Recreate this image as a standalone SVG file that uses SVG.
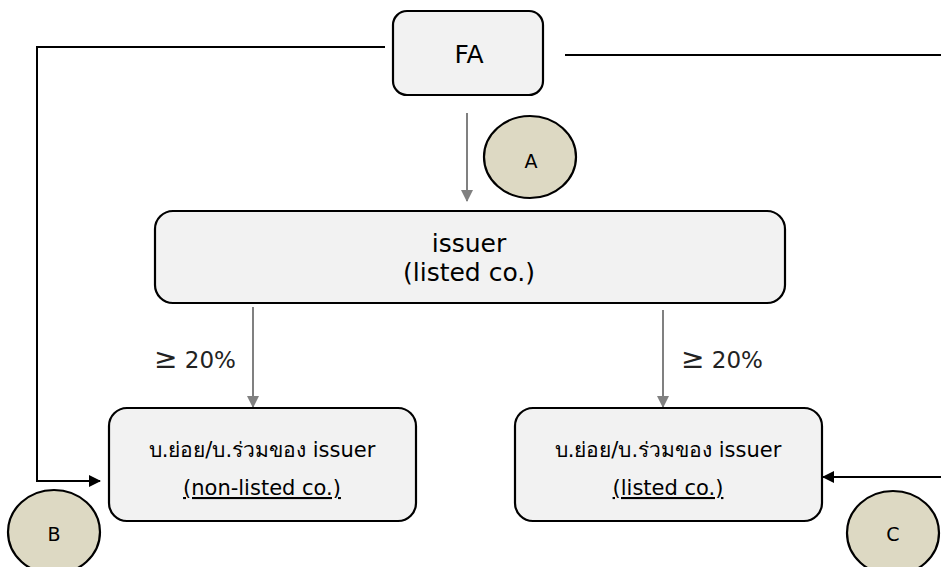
<svg xmlns="http://www.w3.org/2000/svg" width="941" height="567" viewBox="0 0 941 567">
<style>
.box{fill:#f2f2f2;stroke:#000;stroke-width:2.2}
.circ{fill:#ddd9c3;stroke:#000;stroke-width:2.2}
.t{font-family:"DejaVu Sans","Noto Sans",sans-serif;fill:#000;text-anchor:middle}
.pct{font-family:"DejaVu Sans","Noto Sans",sans-serif;fill:#222;font-size:23px}
.ge{font-size:28px}
.gray{stroke:#808080;stroke-width:2;fill:none}
.blk{stroke:#000;stroke-width:2;fill:none}
</style>
<defs>
<marker id="ag" markerWidth="12" markerHeight="12" refX="11" refY="6" orient="auto" markerUnits="userSpaceOnUse" viewBox="0 0 12 12">
<path d="M0,0 L12,6 L0,12 z" fill="#808080"/>
</marker>
<marker id="ab" markerWidth="12" markerHeight="12" refX="11" refY="6" orient="auto" markerUnits="userSpaceOnUse" viewBox="0 0 12 12">
<path d="M0,0 L12,6 L0,12 z" fill="#000"/>
</marker>
</defs>
<g id="connectors">
<path class="blk" d="M385,47 H37 V481 H100" marker-end="url(#ab)"/>
<path class="blk" d="M565,55 H941"/>
<path class="blk" d="M941,477 H823" marker-end="url(#ab)"/>
<path class="gray" d="M467,113 V201" marker-end="url(#ag)"/>
<path class="gray" d="M253,307 V407" marker-end="url(#ag)"/>
<path class="gray" d="M663,310 V407" marker-end="url(#ag)"/>
<text class="pct" x="154" y="368"><tspan class="ge">≥</tspan> 20%</text>
<text class="pct" x="681" y="368"><tspan class="ge">≥</tspan> 20%</text>
</g>
<g id="fa">
<rect class="box" x="393" y="11" width="150" height="84" rx="14"/>
<text class="t" x="469" y="63" font-size="25">FA</text>
</g>
<g id="nodeA">
<ellipse class="circ" cx="530" cy="157" rx="46" ry="41"/>
<text class="t" x="531" y="168" font-size="19">A</text>
</g>
<g id="issuer">
<rect class="box" x="155" y="211" width="630" height="92" rx="18"/>
<text class="t" x="469" y="252" font-size="25">issuer</text>
<text class="t" x="469" y="281" font-size="25">(listed co.)</text>
</g>
<g id="sub-nonlisted">
<rect class="box" x="109" y="408" width="307" height="113" rx="18"/>
<text class="t" x="262" y="457" font-size="21">บ.ย่อย/บ.ร่วมของ issuer</text>
<text class="t" x="262" y="495" font-size="21" text-decoration="underline">(non-listed co.)</text>
</g>
<g id="sub-listed">
<rect class="box" x="515" y="408" width="307" height="113" rx="18"/>
<text class="t" x="668" y="457" font-size="21">บ.ย่อย/บ.ร่วมของ issuer</text>
<text class="t" x="668" y="495" font-size="21" text-decoration="underline">(listed co.)</text>
</g>
<g id="nodeB">
<ellipse class="circ" cx="54" cy="532" rx="46" ry="42"/>
<text class="t" x="54" y="541" font-size="19">B</text>
</g>
<g id="nodeC">
<ellipse class="circ" cx="893" cy="533" rx="46" ry="42"/>
<text class="t" x="893" y="541" font-size="19">C</text>
</g>
</svg>
